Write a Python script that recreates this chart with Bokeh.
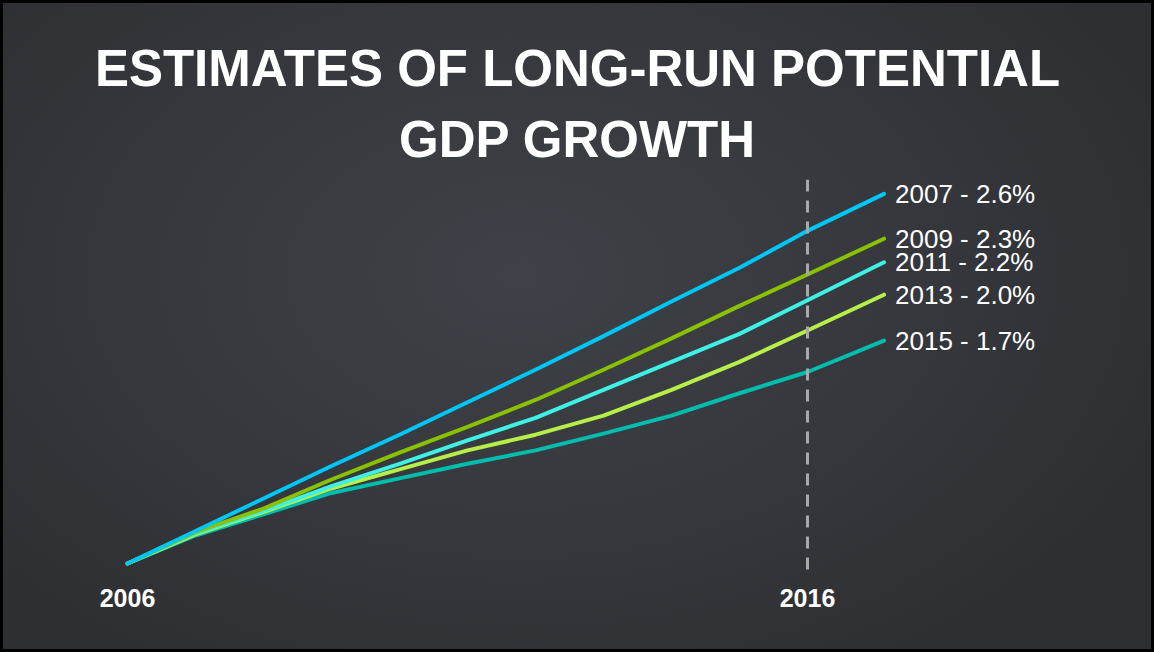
from bokeh.plotting import figure
from bokeh.models import Title, Span, FixedTicker, Range1d, ColumnDataSource
from bokeh.embed import file_html
from bokeh.resources import INLINE
from bokeh.core.properties import value

years = [2006, 2007, 2008, 2009, 2010, 2011, 2012, 2013, 2014, 2015, 2016, 2017.125]
est_2007 = [100.0, 102.9, 105.8, 108.7, 111.5, 114.4, 117.3, 120.3, 123.4, 126.4, 129.7, 133.0]
est_2009 = [100.0, 102.8, 104.9, 107.5, 109.9, 112.2, 114.6, 117.3, 120.1, 123.0, 125.8, 129.0]
est_2011 = [100.0, 102.7, 104.7, 106.9, 108.9, 111.0, 113.0, 115.5, 118.0, 120.5, 123.5, 126.9]
est_2013 = [100.0, 102.6, 104.6, 106.7, 108.4, 110.1, 111.5, 113.2, 115.5, 118.0, 120.8, 124.0]
est_2015 = [100.0, 102.5, 104.4, 106.3, 107.6, 108.9, 110.1, 111.6, 113.2, 115.2, 117.1, 119.9]

vintages = ["2007", "2009", "2011", "2013", "2015"]
rates = ["2.6%", "2.3%", "2.2%", "2.0%", "1.7%"]
series = [est_2007, est_2009, est_2011, est_2013, est_2015]
colors = ["#00c6f6", "#88c200", "#3ef0e6", "#b6ee4a", "#00bdae"]
tick_years = [2006, 2016]
marker_year = 2016
title_lines = ["ESTIMATES OF LONG-RUN POTENTIAL", "GDP GROWTH"]

FONT = "Liberation Sans"

p = figure(
    width=1154, height=652,
    x_range=Range1d(2004.132, 2021.103),
    y_range=Range1d(99.196, 134.286),
    output_backend="svg", toolbar_location=None,
    y_axis_location=None,
    min_border_left=0, min_border_right=0,
    min_border_top=179, min_border_bottom=80,
    background_fill_alpha=0, border_fill_alpha=0,
    outline_line_color=None,
)
p.styles = {
    "background": "radial-gradient(ellipse 60% 70% at 45% 42%, #3e4147 0%, #36383d 55%, #2e2f33 100%)",
    "outline": "3px solid #000000", "outline-offset": "-3px",
}

p.xgrid.visible = False
p.ygrid.visible = False

# titles (plot title is outermost, the added one sits next to the frame)
p.title.text = title_lines[0]
p.title.align = "center"
p.title.text_font = FONT
p.title.text_font_size = "51px"
p.title.text_font_style = "bold"
p.title.text_color = "white"
p.title.standoff = 0
t2 = Title(text=title_lines[1], align="center",
           text_font=FONT, text_font_size="51px", text_font_style="bold",
           text_color="white", standoff=24)
p.add_layout(t2, "above")

# x axis
ax = p.xaxis[0]
ax.ticker = FixedTicker(ticks=tick_years)
ax.axis_line_color = None
ax.major_tick_line_color = None
ax.minor_tick_line_color = None
ax.major_label_text_color = "white"
ax.major_label_text_font = FONT
ax.major_label_text_font_style = "bold"
ax.major_label_text_font_size = "25px"
ax.major_label_standoff = 10

# vertical dashed marker
p.add_layout(Span(location=marker_year, dimension="height",
                  line_color="#a8a8ac", line_width=3, line_dash="12 9"))

# lines (draw lowest first so 2007 sits on top)
for s, c in reversed(list(zip(series, colors))):
    p.line(years, s, line_color=c, line_width=4, line_cap="round", line_join="round")

# end labels
src = ColumnDataSource(dict(
    x=[years[-1]] * len(series),
    y=[s[-1] for s in series],
    t=[f"{v} - {r}" for v, r in zip(vintages, rates)],
))
p.text(x="x", y="y", text="t", source=src, x_offset=11,
       text_baseline="middle", text_align="left",
       text_font=value(FONT), text_font_size=value("26px"), text_color="white")

open("out.html", "w").write(file_html(p, INLINE))
